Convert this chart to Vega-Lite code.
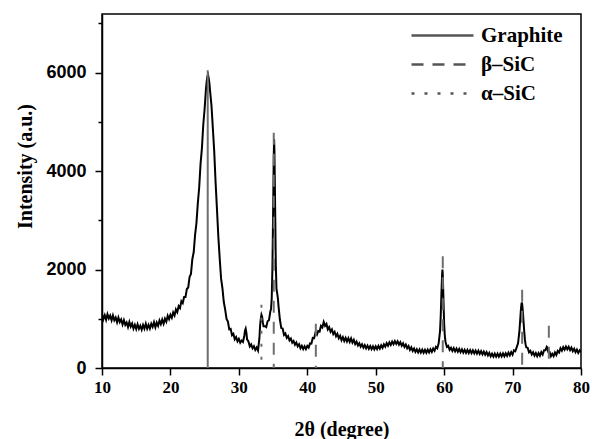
{
"$schema": "https://vega.github.io/schema/vega-lite/v6.json",
"width": 479, "height": 354,
"autosize": {"type": "none"},
"padding": {"left": 102, "top": 14, "right": 11, "bottom": 71},
"background": "white",
"config": {"view": {"stroke": "black", "strokeWidth": 1.5}},
"datasets": {
"xrd": [
{"t":10.0,"i":1095},{"t":10.2,"i":991},{"t":10.4,"i":1072},{"t":10.6,"i":978},{"t":10.8,"i":1094},{"t":11.0,"i":1005},{"t":11.2,"i":1064},{"t":11.4,"i":968},{"t":11.6,"i":1067},{"t":11.8,"i":971},
{"t":12.0,"i":1025},{"t":12.2,"i":928},{"t":12.4,"i":1026},{"t":12.6,"i":934},{"t":12.8,"i":987},{"t":13.0,"i":885},{"t":13.2,"i":973},{"t":13.4,"i":876},{"t":13.6,"i":924},{"t":13.8,"i":832},
{"t":14.0,"i":935},{"t":14.2,"i":842},{"t":14.4,"i":904},{"t":14.6,"i":801},{"t":14.8,"i":878},{"t":15.0,"i":790},{"t":15.2,"i":888},{"t":15.4,"i":796},{"t":15.6,"i":859},{"t":15.8,"i":777},
{"t":16.0,"i":875},{"t":16.2,"i":799},{"t":16.4,"i":898},{"t":16.6,"i":797},{"t":16.8,"i":876},{"t":17.0,"i":800},{"t":17.2,"i":898},{"t":17.4,"i":836},{"t":17.6,"i":929},{"t":17.8,"i":827},
{"t":18.0,"i":925},{"t":18.2,"i":857},{"t":18.4,"i":964},{"t":18.6,"i":891},{"t":18.8,"i":983},{"t":19.0,"i":900},{"t":19.2,"i":1003},{"t":19.4,"i":941},{"t":19.6,"i":1059},{"t":19.8,"i":992},
{"t":20.0,"i":1080},{"t":20.2,"i":1021},{"t":20.4,"i":1127},{"t":20.6,"i":1068},{"t":20.8,"i":1189},{"t":21.0,"i":1135},{"t":21.2,"i":1256},{"t":21.4,"i":1217},{"t":21.6,"i":1358},{"t":21.8,"i":1319},
{"t":22.0,"i":1440},{"t":22.2,"i":1440},{"t":22.4,"i":1605},{"t":22.6,"i":1635},{"t":22.8,"i":1850},{"t":23.0,"i":1910},{"t":23.2,"i":2210},{"t":23.4,"i":2350},{"t":23.6,"i":2700},{"t":23.8,"i":2940},
{"t":24.0,"i":3340},{"t":24.2,"i":3660},{"t":24.4,"i":4140},{"t":24.6,"i":4460},{"t":24.8,"i":4940},{"t":25.0,"i":5270},{"t":25.2,"i":5680},{"t":25.3,"i":5820},{"t":25.4,"i":5920},{"t":25.5,"i":5950},
{"t":25.6,"i":5880},{"t":25.7,"i":5780},{"t":25.8,"i":5620},{"t":26.0,"i":5330},{"t":26.2,"i":4870},{"t":26.4,"i":4400},{"t":26.6,"i":3770},{"t":26.8,"i":3230},{"t":27.0,"i":2670},{"t":27.2,"i":2230},
{"t":27.4,"i":1820},{"t":27.6,"i":1620},{"t":27.8,"i":1340},{"t":28.0,"i":1185},{"t":28.2,"i":995},{"t":28.4,"i":945},{"t":28.6,"i":785},{"t":28.8,"i":795},{"t":29.0,"i":665},{"t":29.2,"i":695},
{"t":29.4,"i":585},{"t":29.6,"i":627},{"t":29.8,"i":541},{"t":30.0,"i":590},{"t":30.2,"i":514},{"t":30.4,"i":558},{"t":30.6,"i":530},{"t":30.8,"i":660},{"t":30.9,"i":760},{"t":31.0,"i":800},
{"t":31.1,"i":720},{"t":31.2,"i":580},{"t":31.4,"i":540},{"t":31.6,"i":440},{"t":31.8,"i":480},{"t":32.0,"i":400},{"t":32.2,"i":444},{"t":32.4,"i":368},{"t":32.6,"i":416},{"t":32.8,"i":355},
{"t":33.0,"i":600},{"t":33.1,"i":850},{"t":33.2,"i":1000},{"t":33.3,"i":1080},{"t":33.4,"i":1040},{"t":33.5,"i":930},{"t":33.6,"i":850},{"t":33.8,"i":850},{"t":34.0,"i":830},{"t":34.2,"i":950},
{"t":34.4,"i":970},{"t":34.6,"i":1150},{"t":34.7,"i":1200},{"t":34.8,"i":1400},{"t":34.9,"i":2000},{"t":35.0,"i":3100},{"t":35.1,"i":4300},{"t":35.15,"i":4650},{"t":35.2,"i":4400},{"t":35.3,"i":3300},
{"t":35.4,"i":2100},{"t":35.5,"i":1600},{"t":35.6,"i":1520},{"t":35.7,"i":1420},{"t":35.8,"i":1250},{"t":36.0,"i":980},{"t":36.2,"i":810},{"t":36.4,"i":800},{"t":36.6,"i":670},{"t":36.8,"i":700},
{"t":37.0,"i":610},{"t":37.2,"i":646},{"t":37.4,"i":562},{"t":37.6,"i":598},{"t":37.8,"i":514},{"t":38.0,"i":550},{"t":38.2,"i":474},{"t":38.4,"i":518},{"t":38.6,"i":442},{"t":38.8,"i":482},
{"t":39.0,"i":400},{"t":39.2,"i":452},{"t":39.4,"i":384},{"t":39.6,"i":440},{"t":39.8,"i":384},{"t":40.0,"i":450},{"t":40.2,"i":415},{"t":40.4,"i":500},{"t":40.6,"i":495},{"t":40.8,"i":610},
{"t":41.0,"i":605},{"t":41.2,"i":720},{"t":41.4,"i":675},{"t":41.6,"i":750},{"t":41.8,"i":740},{"t":42.0,"i":855},{"t":42.2,"i":825},{"t":42.4,"i":935},{"t":42.6,"i":855},{"t":42.8,"i":895},
{"t":43.0,"i":785},{"t":43.2,"i":831},{"t":43.4,"i":737},{"t":43.6,"i":783},{"t":43.8,"i":689},{"t":44.0,"i":735},{"t":44.2,"i":645},{"t":44.4,"i":695},{"t":44.6,"i":605},{"t":44.8,"i":655},
{"t":45.0,"i":565},{"t":45.2,"i":627},{"t":45.4,"i":549},{"t":45.6,"i":613},{"t":45.8,"i":539},{"t":46.0,"i":605},{"t":46.2,"i":531},{"t":46.4,"i":602},{"t":46.6,"i":517},{"t":46.8,"i":571},
{"t":47.0,"i":485},{"t":47.2,"i":534},{"t":47.4,"i":458},{"t":47.6,"i":504},{"t":47.8,"i":432},{"t":48.0,"i":480},{"t":48.2,"i":412},{"t":48.4,"i":464},{"t":48.6,"i":398},{"t":48.8,"i":454},
{"t":49.0,"i":390},{"t":49.2,"i":446},{"t":49.4,"i":382},{"t":49.6,"i":440},{"t":49.8,"i":380},{"t":50.0,"i":440},{"t":50.2,"i":384},{"t":50.4,"i":448},{"t":50.6,"i":394},{"t":50.8,"i":462},
{"t":51.0,"i":410},{"t":51.2,"i":482},{"t":51.4,"i":434},{"t":51.6,"i":504},{"t":51.8,"i":452},{"t":52.0,"i":520},{"t":52.2,"i":468},{"t":52.4,"i":536},{"t":52.6,"i":482},{"t":52.8,"i":546},
{"t":53.0,"i":490},{"t":53.2,"i":542},{"t":53.4,"i":474},{"t":53.6,"i":524},{"t":53.8,"i":452},{"t":54.0,"i":500},{"t":54.2,"i":428},{"t":54.4,"i":476},{"t":54.6,"i":402},{"t":54.8,"i":446},
{"t":55.0,"i":370},{"t":55.2,"i":418},{"t":55.4,"i":346},{"t":55.6,"i":396},{"t":55.8,"i":328},{"t":56.0,"i":380},{"t":56.2,"i":318},{"t":56.4,"i":376},{"t":56.6,"i":314},{"t":56.8,"i":372},
{"t":57.0,"i":310},{"t":57.2,"i":370},{"t":57.4,"i":310},{"t":57.6,"i":372},{"t":57.8,"i":316},{"t":58.0,"i":380},{"t":58.2,"i":328},{"t":58.4,"i":396},{"t":58.6,"i":350},{"t":58.8,"i":430},
{"t":59.0,"i":400},{"t":59.2,"i":500},{"t":59.4,"i":750},{"t":59.5,"i":1050},{"t":59.6,"i":1500},{"t":59.7,"i":1900},{"t":59.75,"i":2000},{"t":59.8,"i":1900},{"t":59.9,"i":1400},{"t":60.0,"i":900},
{"t":60.1,"i":650},{"t":60.2,"i":530},{"t":60.4,"i":430},{"t":60.6,"i":450},{"t":60.8,"i":370},{"t":61.0,"i":410},{"t":61.2,"i":346},{"t":61.4,"i":402},{"t":61.6,"i":338},{"t":61.8,"i":394},
{"t":62.0,"i":330},{"t":62.2,"i":386},{"t":62.4,"i":322},{"t":62.6,"i":378},{"t":62.8,"i":314},{"t":63.0,"i":370},{"t":63.2,"i":308},{"t":63.4,"i":366},{"t":63.6,"i":304},{"t":63.8,"i":362},
{"t":64.0,"i":300},{"t":64.2,"i":358},{"t":64.4,"i":296},{"t":64.6,"i":354},{"t":64.8,"i":292},{"t":65.0,"i":350},{"t":65.2,"i":286},{"t":65.4,"i":342},{"t":65.6,"i":278},{"t":65.8,"i":334},
{"t":66.0,"i":270},{"t":66.2,"i":322},{"t":66.4,"i":254},{"t":66.6,"i":306},{"t":66.8,"i":238},{"t":67.0,"i":290},{"t":67.2,"i":230},{"t":67.4,"i":290},{"t":67.6,"i":230},{"t":67.8,"i":290},
{"t":68.0,"i":230},{"t":68.2,"i":292},{"t":68.4,"i":234},{"t":68.6,"i":296},{"t":68.8,"i":238},{"t":69.0,"i":300},{"t":69.2,"i":246},{"t":69.4,"i":312},{"t":69.6,"i":258},{"t":69.8,"i":324},
{"t":70.0,"i":270},{"t":70.2,"i":360},{"t":70.4,"i":340},{"t":70.6,"i":420},{"t":70.8,"i":500},{"t":71.0,"i":750},{"t":71.1,"i":950},{"t":71.2,"i":1150},{"t":71.3,"i":1300},{"t":71.35,"i":1330},
{"t":71.4,"i":1300},{"t":71.5,"i":1150},{"t":71.6,"i":950},{"t":71.7,"i":750},{"t":71.8,"i":580},{"t":71.9,"i":480},{"t":72.0,"i":420},{"t":72.2,"i":410},{"t":72.4,"i":320},{"t":72.6,"i":350},
{"t":72.8,"i":275},{"t":73.0,"i":320},{"t":73.2,"i":252},{"t":73.4,"i":304},{"t":73.6,"i":240},{"t":73.8,"i":304},{"t":74.0,"i":250},{"t":74.2,"i":322},{"t":74.4,"i":274},{"t":74.6,"i":360},
{"t":74.8,"i":360},{"t":74.9,"i":400},{"t":75.0,"i":430},{"t":75.1,"i":410},{"t":75.2,"i":330},{"t":75.4,"i":330},{"t":75.6,"i":240},{"t":75.8,"i":290},{"t":76.0,"i":240},{"t":76.2,"i":315},
{"t":76.4,"i":265},{"t":76.6,"i":345},{"t":76.8,"i":315},{"t":77.0,"i":400},{"t":77.2,"i":352},{"t":77.4,"i":424},{"t":77.6,"i":372},{"t":77.8,"i":436},{"t":78.0,"i":380},{"t":78.2,"i":432},
{"t":78.4,"i":364},{"t":78.6,"i":414},{"t":78.8,"i":342},{"t":79.0,"i":390},{"t":79.2,"i":322},{"t":79.4,"i":374},{"t":79.6,"i":306},{"t":79.8,"i":358},{"t":80.0,"i":320}
],
"ref": [
{"t":25.45,"top":6050,"phase":"Graphite"},
{"t":35.1,"top":4780,"phase":"β–SiC"},
{"t":41.25,"top":900,"phase":"β–SiC"},
{"t":59.8,"top":2270,"phase":"β–SiC"},
{"t":71.4,"top":1590,"phase":"β–SiC"},
{"t":75.3,"top":860,"phase":"β–SiC"},
{"t":33.3,"top":1285,"phase":"α–SiC"}
]
},
"layer": [
{
"data": {"name": "xrd"},
"mark": {"type": "line", "color": "black", "strokeWidth": 2, "clip": true},
"encoding": {
"x": {"field": "t", "type": "quantitative",
"scale": {"domain": [10, 80], "nice": false, "zero": false},
"axis": {"title": "2θ (degree)", "values": [10,15,20,25,30,35,40,45,50,55,60,65,70,75,80],
"labelExpr": "datum.value % 10 === 0 ? datum.label : ''",
"grid": false, "domainColor": "black", "domainWidth": 1.5, "tickColor": "black", "tickWidth": 1.5,
"tickSize": {"condition": {"test": "datum.value % 10 !== 0", "value": 4}, "value": 7},
"labelFont": "Liberation Serif", "labelFontWeight": "bold", "labelFontSize": 17, "labelColor": "black", "labelPadding": 4,
"labelFlush": false, "labelOverlap": false,
"titleFont": "Liberation Serif", "titleFontWeight": "bold", "titleFontSize": 20, "titleColor": "black",
"titleBaseline": "alphabetic", "titleY": 67}},
"y": {"field": "i", "type": "quantitative",
"scale": {"domain": [0, 7190], "nice": false, "zero": false},
"axis": {"title": "Intensity (a.u.)", "values": [0,1000,2000,3000,4000,5000,6000,7000],
"labelExpr": "datum.value % 2000 === 0 ? datum.value + '' : ''",
"grid": false, "domainColor": "black", "domainWidth": 1.5, "tickColor": "black", "tickWidth": 1.5,
"tickSize": {"condition": {"test": "datum.value % 2000 !== 0", "value": 4}, "value": 7},
"labelFont": "Liberation Sans", "labelFontWeight": "bold", "labelFontSize": 18, "labelColor": "black", "labelPadding": 9,
"labelFlush": false, "labelOverlap": false,
"titleFont": "Liberation Serif", "titleFontWeight": "bold", "titleFontSize": 20, "titleColor": "black",
"titleAngle": -90, "titleX": -77, "titleY": 152, "titleAlign": "center", "titleBaseline": "middle"}}
}
},
{
"data": {"name": "ref"},
"mark": {"type": "rule", "color": "#6e6e6e", "strokeWidth": 2},
"encoding": {
"x": {"field": "t", "type": "quantitative"},
"y": {"field": "top", "type": "quantitative"},
"y2": {"datum": 0},
"strokeDash": {"field": "phase", "type": "nominal",
"scale": {"domain": ["Graphite", "β–SiC", "α–SiC"], "range": [[1, 0], [12, 9], [3, 10]]},
"legend": {"title": null, "orient": "none", "legendX": 308, "legendY": 11, "padding": 0,
"symbolType": "stroke", "symbolSize": 3844, "symbolStrokeWidth": 2.5, "symbolStrokeColor": "#555555",
"clipHeight": 21,
"labelFont": "Liberation Serif", "labelFontWeight": "bold", "labelFontSize": 21, "labelColor": "black",
"labelOffset": 6, "rowPadding": 7, "labelLimit": 200}}
}
},
{
"mark": {"type": "rect", "fill": null, "fillOpacity": 0, "stroke": "black", "strokeWidth": 1.5},
"encoding": {
"x": {"datum": 10, "type": "quantitative"}, "x2": {"datum": 80},
"y": {"datum": 0, "type": "quantitative"}, "y2": {"datum": 7190}}
},
{
"mark": {"type": "rule", "color": "black", "strokeWidth": 2},
"encoding": {
"x": {"datum": 10, "type": "quantitative"}, "x2": {"datum": 80},
"y": {"datum": 7175, "type": "quantitative"}}
}
]
}
